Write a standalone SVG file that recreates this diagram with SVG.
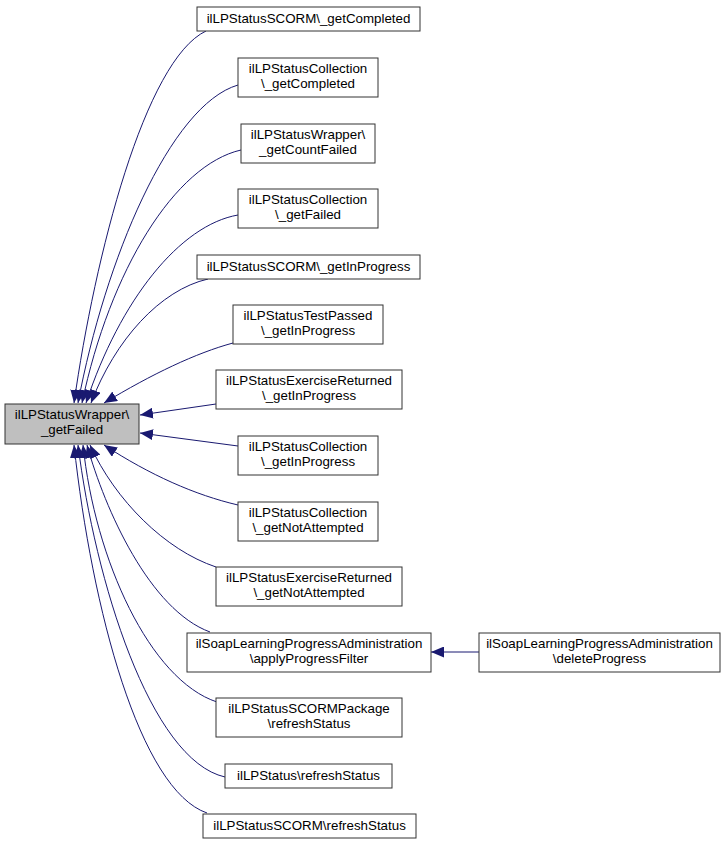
<svg xmlns="http://www.w3.org/2000/svg" width="727" height="845" viewBox="0 0 727 845">
<defs>
<marker id="ah" markerUnits="userSpaceOnUse" markerWidth="13" markerHeight="11" viewBox="0 0 13 11" refX="13" refY="5.5" orient="auto">
<path d="M0,0 L13,5.5 L0,11 z" fill="#191970"/>
</marker>
<style>
.n rect{fill:#fff;stroke:#333;stroke-width:1}
.m rect{fill:#bfbfbf;stroke:#333;stroke-width:1}
text{font-family:"Liberation Sans",Arial,sans-serif;font-size:13.33px;fill:#000;text-anchor:middle}
.e path{fill:none;stroke:#191970;stroke-width:1;marker-end:url(#ah)}
</style>
</defs>
<rect width="727" height="845" fill="#fff"/>
<g class="e" id="edges">
<path d="M206,31 C145,60 95,255 74,403"/>
<path d="M238,85 C170,105 105,260 78,403"/>
<path d="M241,150 C175,165 110,270 82,403"/>
<path d="M238,215 C180,225 120,300 86,403"/>
<path d="M208,279 C160,290 115,340 91,403"/>
<path d="M233,343 C196,353 152,374 104,403"/>
<path d="M216,404 L140,415"/>
<path d="M238,446 L140,433"/>
<path d="M238,505 C195,495 150,475 104,445"/>
<path d="M216,567 C165,550 115,500 90,445"/>
<path d="M210,632 C150,610 105,510 87,445"/>
<path d="M217,702 C150,680 95,560 83,445"/>
<path d="M225,777 C150,760 95,580 78,445"/>
<path d="M207,813 C140,790 92,610 74,445"/>
<path d="M479,652 L431,652"/>
</g>
<g id="main" class="m"><rect x="5" y="404" width="134" height="40"/><text x="72" y="419">ilLPStatusWrapper\</text><text x="72" y="434">_getFailed</text></g>
<g id="n1" class="n"><rect x="197" y="7" width="223" height="24"/><text x="308.5" y="23">ilLPStatusSCORM\_getCompleted</text></g>
<g id="n2" class="n"><rect x="238" y="58" width="140" height="39"/><text x="308" y="73">ilLPStatusCollection</text><text x="308" y="88">\_getCompleted</text></g>
<g id="n3" class="n"><rect x="241" y="124" width="134" height="39"/><text x="308" y="139">ilLPStatusWrapper\</text><text x="308" y="154">_getCountFailed</text></g>
<g id="n4" class="n"><rect x="238" y="189" width="140" height="39"/><text x="308" y="204">ilLPStatusCollection</text><text x="308" y="219">\_getFailed</text></g>
<g id="n5" class="n"><rect x="197" y="255" width="223" height="24"/><text x="308.5" y="271">ilLPStatusSCORM\_getInProgress</text></g>
<g id="n6" class="n"><rect x="233" y="305" width="150" height="39"/><text x="308" y="320">ilLPStatusTestPassed</text><text x="308" y="335">\_getInProgress</text></g>
<g id="n7" class="n"><rect x="216" y="370" width="186" height="39"/><text x="309" y="385">ilLPStatusExerciseReturned</text><text x="309" y="400">\_getInProgress</text></g>
<g id="n8" class="n"><rect x="238" y="436" width="140" height="39"/><text x="308" y="451">ilLPStatusCollection</text><text x="308" y="466">\_getInProgress</text></g>
<g id="n9" class="n"><rect x="238" y="502" width="140" height="39"/><text x="308" y="517">ilLPStatusCollection</text><text x="308" y="532">\_getNotAttempted</text></g>
<g id="n10" class="n"><rect x="216" y="567" width="186" height="39"/><text x="309" y="582">ilLPStatusExerciseReturned</text><text x="309" y="597">\_getNotAttempted</text></g>
<g id="n11" class="n"><rect x="187" y="633" width="244" height="39"/><text x="309" y="648">ilSoapLearningProgressAdministration</text><text x="309" y="663">\applyProgressFilter</text></g>
<g id="n12" class="n"><rect x="216" y="698" width="186" height="39"/><text x="309" y="713">ilLPStatusSCORMPackage</text><text x="309" y="728">\refreshStatus</text></g>
<g id="n13" class="n"><rect x="225" y="764" width="167" height="24"/><text x="308.5" y="780">ilLPStatus\refreshStatus</text></g>
<g id="n14" class="n"><rect x="203" y="814" width="213" height="24"/><text x="309.5" y="830">ilLPStatusSCORM\refreshStatus</text></g>
<g id="n15" class="n"><rect x="479" y="633" width="241" height="39"/><text x="599.5" y="648">ilSoapLearningProgressAdministration</text><text x="599.5" y="663">\deleteProgress</text></g>
</svg>
